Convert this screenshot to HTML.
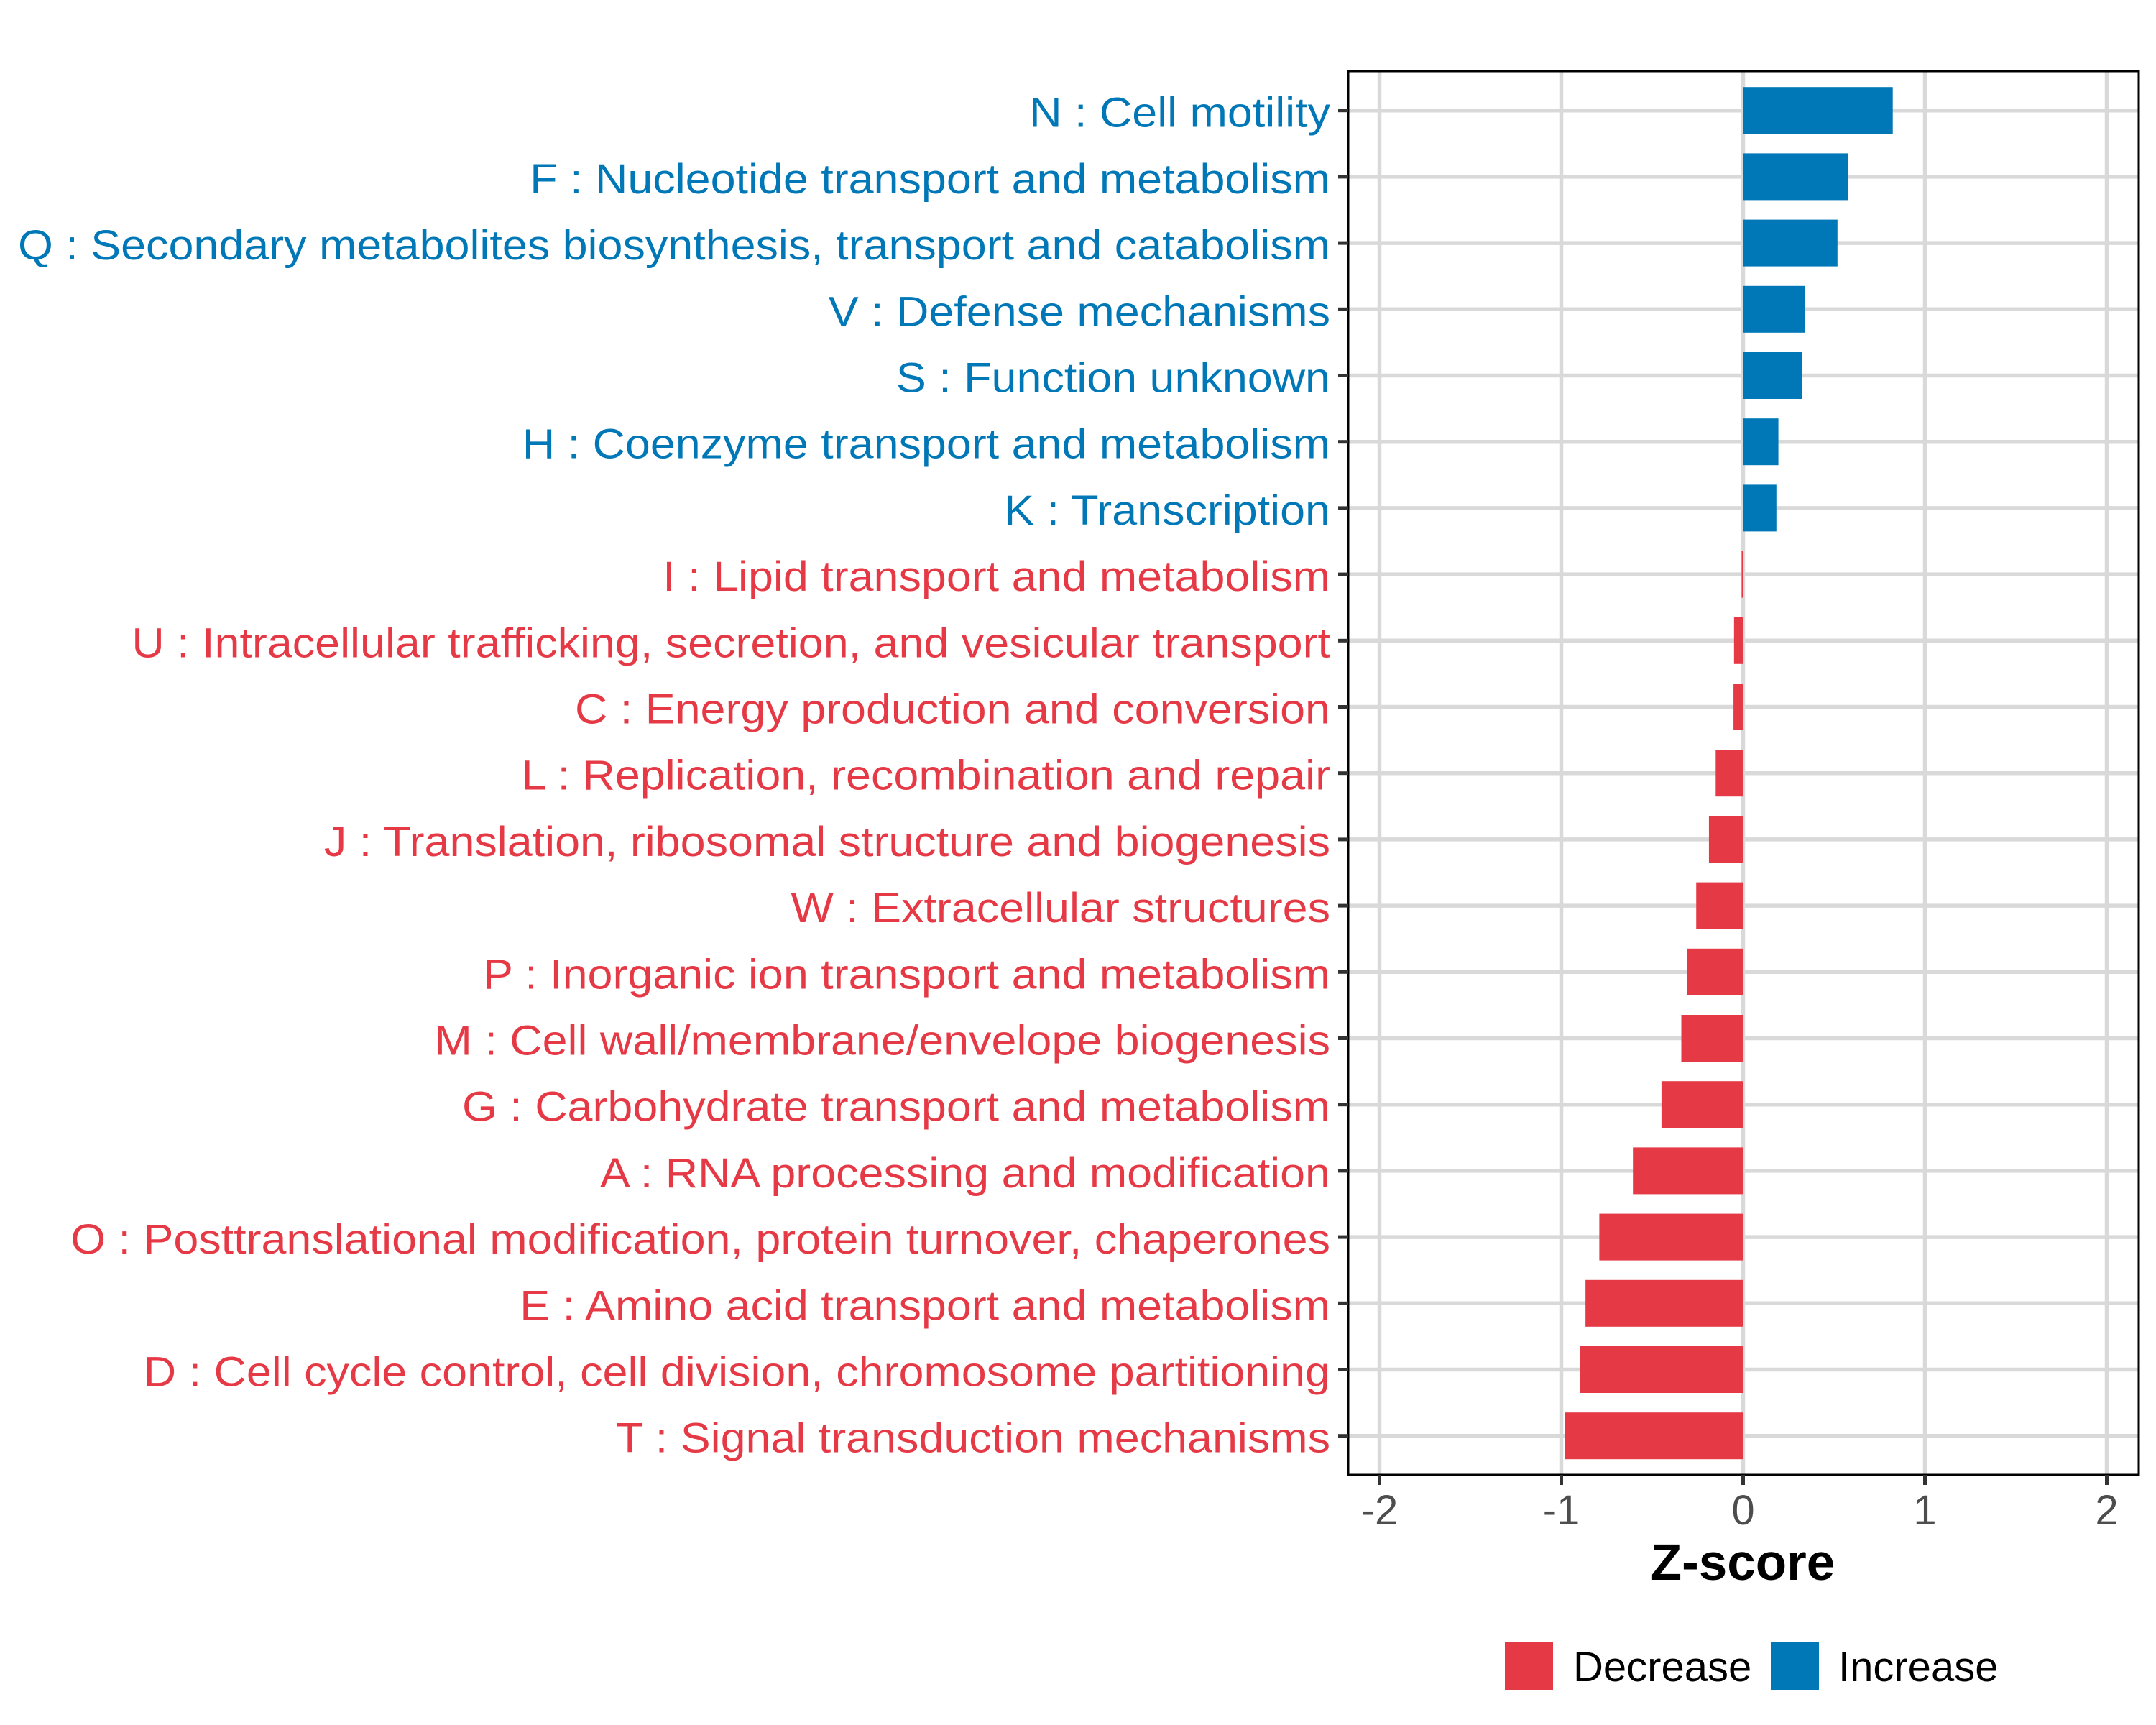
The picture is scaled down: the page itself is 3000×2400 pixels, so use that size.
<!DOCTYPE html>
<html><head><meta charset="utf-8"><style>
html,body{margin:0;padding:0;background:#fff;}
svg{display:block;font-family:"Liberation Sans",Arial,sans-serif;}
</style></head><body>
<svg id="chart" width="3000" height="2400" viewBox="0 0 3000 2400" xmlns="http://www.w3.org/2000/svg">
<rect width="3000" height="2400" fill="#fff"/>
<g id="grid"></g>
<g id="bars"></g>
<rect x="1876" y="99" width="1100" height="1953" fill="none" stroke="#000" stroke-width="3"/>
<g id="yaxis"></g>
<g id="xaxis"></g>
<text x="2425" y="2198" text-anchor="middle" font-size="71" font-weight="bold" fill="#000">Z-score</text>
<g>
  <g>
    <rect x="2094" y="2285" width="67" height="66" fill="#E63946"/>
    <text x="2189" y="2339" font-size="58" fill="#000">Decrease</text>
  </g>
  <g>
    <rect x="2464" y="2285" width="67" height="66" fill="#0077B6"/>
    <text x="2558" y="2339" font-size="58" fill="#000">Increase</text>
  </g>
</g>
</svg>
<script>
const categories = [
"N : Cell motility",
"F : Nucleotide transport and metabolism",
"Q : Secondary metabolites biosynthesis, transport and catabolism",
"V : Defense mechanisms",
"S : Function unknown",
"H : Coenzyme transport and metabolism",
"K : Transcription",
"I : Lipid transport and metabolism",
"U : Intracellular trafficking, secretion, and vesicular transport",
"C : Energy production and conversion",
"L : Replication, recombination and repair",
"J : Translation, ribosomal structure and biogenesis",
"W : Extracellular structures",
"P : Inorganic ion transport and metabolism",
"M : Cell wall/membrane/envelope biogenesis",
"G : Carbohydrate transport and metabolism",
"A : RNA processing and modification",
"O : Posttranslational modification, protein turnover, chaperones",
"E : Amino acid transport and metabolism",
"D : Cell cycle control, cell division, chromosome partitioning",
"T : Signal transduction mechanisms"];
const zscores = [0.823,0.577,0.519,0.339,0.325,0.194,0.183,-0.008,-0.05,-0.053,-0.151,-0.188,-0.258,-0.31,-0.34,-0.449,-0.606,-0.791,-0.867,-0.899,-0.98];
const xTicks = [-2,-1,0,1,2];
const xTickLabels = ["-2","-1","0","1","2"];

const NS="http://www.w3.org/2000/svg";
const X0=2425.5, UNIT=253, Y0=153.7, STEP=92.2, BARH=65;
const xs=v=>X0+v*UNIT;
const ys=i=>Y0+i*STEP;
function mk(tag,attrs,parent){const e=document.createElementNS(NS,tag);for(const k in attrs)e.setAttribute(k,attrs[k]);parent.appendChild(e);return e;}
const grid=document.getElementById('grid'),bars=document.getElementById('bars'),ya=document.getElementById('yaxis'),xa=document.getElementById('xaxis');
categories.forEach((c,i)=>{
  const l=mk('line',{x1:1876,x2:2976,y1:ys(i),y2:ys(i),stroke:'#d9d9d9','stroke-width':5.5},grid);
  
  
});
xTicks.forEach((t,i)=>{
  const l=mk('line',{x1:xs(t),x2:xs(t),y1:99,y2:2052,stroke:'#d9d9d9','stroke-width':5.5},grid);
  
  
  const tk=mk('line',{x1:xs(t),x2:xs(t),y1:2052,y2:2066,stroke:'#333','stroke-width':5},xa);
  
  
  const tx=mk('text',{x:xs(t),y:2121,'text-anchor':'middle','font-size':58,fill:'#4d4d4d'},xa);
  tx.textContent=xTickLabels[i];
  
  
});
zscores.forEach((v,i)=>{
  const col=v>=0?'#0077B6':'#E63946';
  const r=mk('rect',{x:Math.min(xs(0),xs(v)),y:ys(i)-BARH/2,width:Math.max(Math.abs(xs(v)-xs(0)),2),height:BARH,fill:col},bars);
  
  
  const tk=mk('line',{x1:1862,x2:1876,y1:ys(i),y2:ys(i),stroke:'#333','stroke-width':5},ya);
  
  
  const tx=mk('text',{x:1851,y:ys(i)+23,'text-anchor':'end','font-size':58,fill:col},ya);
  tx.textContent=categories[i];
  
  
});
const labels=[...ya.querySelectorAll('text')];
let maxW=0;labels.forEach(t=>{maxW=Math.max(maxW,t.getComputedTextLength());});
if(maxW>0){const s=1826/maxW;labels.forEach(t=>{t.setAttribute('textLength',t.getComputedTextLength()*s);t.setAttribute('lengthAdjust','spacingAndGlyphs');});}
</script>
</body></html>
